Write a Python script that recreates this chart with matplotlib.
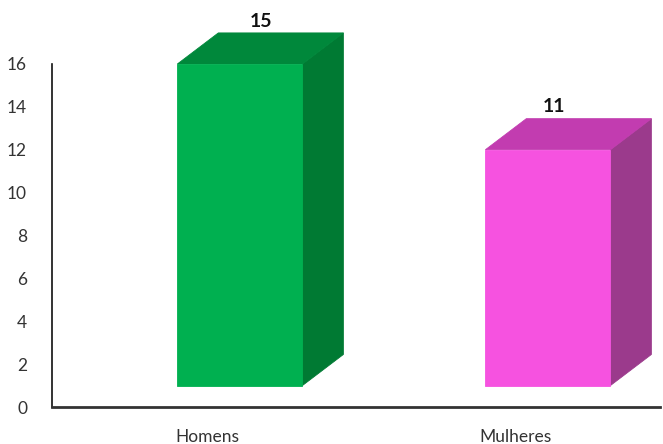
import matplotlib
matplotlib.use('Agg')
import matplotlib.pyplot as plt
from matplotlib.patches import Polygon

plt.rcParams['font.family'] = ['Lato', 'DejaVu Sans']

categorias = ['Homens', 'Mulheres']
valores = [15, 11]
yticks = [0, 2, 4, 6, 8, 10, 12, 14, 16]

cores_frente = ['#00B050', '#F652E0']
cores_lado = ['#007A33', '#9B3A8C']
cores_topo = ['#00883B', '#C23CB0']

# geometria da "caixa" 3D (em unidades de dados)
base = 1.0
larg = 0.406
dx, dy = 0.133, 1.45
label_dx = [0.068, 0.02]

fig = plt.figure(figsize=(6.63, 4.44), dpi=100)
ax = fig.add_axes([52 / 663, 37 / 444, 608 / 663, 343 / 444])

for i, (v, cf, cl, ct) in enumerate(zip(valores, cores_frente, cores_lado, cores_topo)):
    x0, x1 = i - larg / 2, i + larg / 2
    top = base + v
    lado = Polygon([(x1, base), (x1 + dx, base + dy), (x1 + dx, top + dy), (x1, top)],
                   closed=True, facecolor=cl, edgecolor=cl, lw=0.6, clip_on=False)
    topo = Polygon([(x0, top), (x1, top), (x1 + dx, top + dy), (x0 + dx, top + dy)],
                   closed=True, facecolor=ct, edgecolor=ct, lw=0.6, clip_on=False)
    frente = Polygon([(x0, base), (x1, base), (x1, top), (x0, top)], closed=True,
                     facecolor=cf, edgecolor=cf, lw=0.6, clip_on=False)
    for p in (lado, topo, frente):
        ax.add_patch(p)
    ax.text(i + label_dx[i], v + 3.0, str(v), ha='center', va='center',
            fontsize=14, fontweight='bold', color='#111111', clip_on=False)

ax.set_xlim(-0.610, 1.364)
ax.set_ylim(0, 16)
ax.set_yticks(yticks)
ax.set_yticklabels([str(t) for t in yticks], fontsize=12.5, color='#333333')
ax.set_xticks([i - 0.105 for i in range(len(categorias))])
ax.set_xticklabels(categorias, fontsize=12.5, color='#333333')
ax.tick_params(axis='y', length=0, pad=18)
ax.tick_params(axis='x', length=0, pad=16)

for s in ['top', 'right']:
    ax.spines[s].set_visible(False)
ax.spines['left'].set_color('#111111')
ax.spines['left'].set_linewidth(1.2)
ax.spines['bottom'].set_color('#333333')
ax.spines['bottom'].set_linewidth(2.0)

fig.savefig('out.png', dpi=100)
plt.close(fig)
